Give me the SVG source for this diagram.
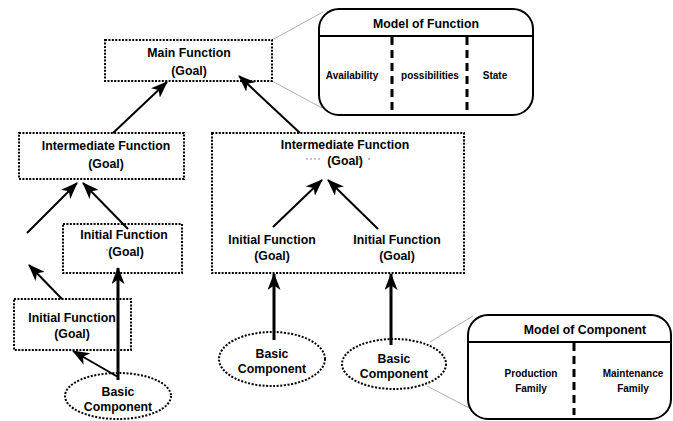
<svg xmlns="http://www.w3.org/2000/svg" width="673" height="421" viewBox="0 0 673 421">
<style>
.box{fill:none;stroke:#000;stroke-width:2;stroke-dasharray:2 1.4}
.ell{fill:none;stroke:#000;stroke-width:2;stroke-dasharray:2 1.6}
.t{font-family:"Liberation Sans",Arial,sans-serif;font-weight:bold;font-size:12.3px;fill:#000;text-anchor:middle}
.s{font-family:"Liberation Sans",Arial,sans-serif;font-weight:bold;font-size:10px;fill:#000;text-anchor:middle}
.a{stroke:#000;stroke-width:2;fill:none}
.a3{stroke:#000;stroke-width:3;fill:none}
.g{stroke:#999;stroke-width:0.8;fill:none}
.model{fill:#fff;stroke:#000;stroke-width:2}
.dash{stroke:#000;stroke-width:3;stroke-dasharray:8 5}
</style>
<defs>
<marker id="ah" viewBox="0 0 17 13" refX="16" refY="6.5" markerWidth="17" markerHeight="13" markerUnits="userSpaceOnUse" orient="auto">
<path d="M0,0 L17,6.5 L0,13 L4.5,6.5 z" fill="#000"/>
</marker>
</defs>

<g id="connectors">
<line class="a" x1="113" y1="133" x2="167" y2="82" marker-end="url(#ah)"/>
<line class="a" x1="300" y1="133" x2="239" y2="76" marker-end="url(#ah)"/>
<line class="a" x1="27" y1="233" x2="77" y2="183" marker-end="url(#ah)"/>
<line class="a" x1="128" y1="229" x2="83" y2="183" marker-end="url(#ah)"/>
<line class="a" x1="62" y1="299" x2="29" y2="265" marker-end="url(#ah)"/>
<line class="a3" x1="118" y1="380" x2="118" y2="268" marker-end="url(#ah)"/>
<line class="a" x1="118" y1="377" x2="73" y2="351" marker-end="url(#ah)"/>
<line class="a" x1="273" y1="227" x2="322" y2="180" marker-end="url(#ah)"/>
<line class="a" x1="378" y1="229" x2="328" y2="180" marker-end="url(#ah)"/>
<line class="a3" x1="274" y1="340" x2="274" y2="274" marker-end="url(#ah)"/>
<line class="a3" x1="391" y1="345" x2="391" y2="274" marker-end="url(#ah)"/>
<line class="g" x1="272" y1="40" x2="323" y2="12"/>
<line class="g" x1="272" y1="81" x2="322" y2="108"/>
<line class="g" x1="430" y1="342" x2="473" y2="316"/>
<line class="g" x1="427" y1="386" x2="473" y2="410"/>
</g>

<g id="main-function">
<rect class="box" x="105" y="40" width="167" height="41"/>
<text class="t" x="189" y="57">Main Function</text>
<text class="t" x="189" y="75">(Goal)</text>
</g>

<g id="intermediate-left">
<rect class="box" x="19" y="133" width="165" height="46"/>
<text class="t" x="106" y="150">Intermediate Function</text>
<text class="t" x="106" y="168">(Goal)</text>
</g>

<g id="initial-upper-left">
<rect class="box" x="63" y="224" width="119" height="49"/>
<text class="t" x="124" y="239">Initial Function</text>
<text class="t" x="126" y="256">(Goal)</text>
<circle cx="107" cy="250" r="0.7" fill="#555"/>
</g>

<g id="initial-lower-left">
<rect class="box" x="14" y="299" width="117" height="51"/>
<text class="t" x="72" y="322">Initial Function</text>
<text class="t" x="72" y="338">(Goal)</text>
</g>

<g id="basic-left">
<ellipse class="ell" cx="118" cy="396" rx="53" ry="23"/>
<text class="t" x="118" y="396">Basic</text>
<text class="t" x="118" y="411">Component</text>
</g>

<g id="intermediate-right">
<rect class="box" x="212" y="133" width="252" height="140"/>
<text class="t" x="345" y="149">Intermediate Function</text>
<text class="t" x="345" y="165">(Goal)</text>
<line x1="306" y1="159" x2="321" y2="159" stroke="#444" stroke-width="0.6" stroke-dasharray="2 2"/>
<circle cx="359" cy="159" r="0.7" fill="#444"/>
<circle cx="369" cy="159" r="0.7" fill="#444"/>
<text class="t" x="272" y="244">Initial Function</text>
<text class="t" x="272" y="260">(Goal)</text>
<text class="t" x="397" y="244">Initial Function</text>
<text class="t" x="397" y="260">(Goal)</text>
</g>

<g id="basic-middle">
<ellipse class="ell" cx="272" cy="359" rx="53" ry="27"/>
<text class="t" x="272" y="358">Basic</text>
<text class="t" x="272" y="373">Component</text>
</g>

<g id="basic-right">
<ellipse class="ell" cx="394" cy="364" rx="52" ry="25"/>
<text class="t" x="394" y="363">Basic</text>
<text class="t" x="394" y="378">Component</text>
</g>

<g id="model-of-function">
<rect class="model" x="319" y="9" width="214" height="106" rx="20" ry="20"/>
<line x1="319" y1="36" x2="533" y2="36" stroke="#000" stroke-width="2"/>
<text class="t" x="426" y="28" font-size="12">Model of Function</text>
<line class="dash" x1="392" y1="37" x2="392" y2="110"/>
<line class="dash" x1="467" y1="37" x2="467" y2="110"/>
<text class="s" x="352" y="79">Availability</text>
<text class="s" x="430" y="79">possibilities</text>
<text class="s" x="495" y="79">State</text>
</g>

<g id="model-of-component">
<rect class="model" x="468" y="315" width="203" height="104" rx="20" ry="20"/>
<line x1="468" y1="342" x2="671" y2="342" stroke="#000" stroke-width="2"/>
<text class="t" x="585" y="334">Model of Component</text>
<line class="dash" x1="574" y1="343" x2="574" y2="415"/>
<text class="s" x="531" y="377">Production</text>
<text class="s" x="531" y="392">Family</text>
<text class="s" x="633" y="377">Maintenance</text>
<text class="s" x="633" y="392">Family</text>
</g>
</svg>
